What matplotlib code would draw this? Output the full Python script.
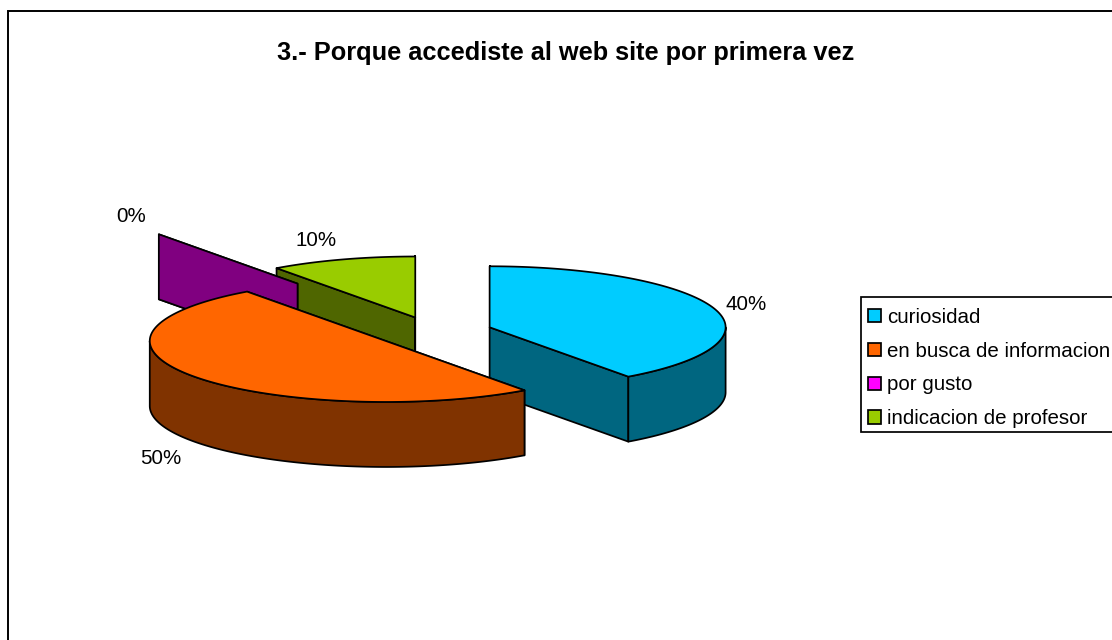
import numpy as np
import matplotlib
matplotlib.use('Agg')
import matplotlib.pyplot as plt
from matplotlib.patches import Patch, Polygon, Rectangle

plt.rcParams['font.family'] = ['Liberation Sans', 'DejaVu Sans']

# data
titulo = "3.- Porque accediste al web site por primera vez"
categorias = ["curiosidad", "en busca de informacion", "por gusto", "indicacion de profesor"]
valores = [40, 50, 0, 10]
explosion = [0.25, 0.25, 0.98, 0.25]
colores = ['#00CCFF', '#FF6600', '#FF00FF', '#99CC00']
colores_lado = ['#006680', '#803300', '#800080', '#4F6600']

# layout, in pixels of the picture
CX, CY = 433.5, 332
RX, RY = 236, 61
ALTO = 65
LW = 1.25
pos_etiquetas = [(746, 304), (161, 459), (131, 216), (316, 241)]
orden = [3, 2, 0, 1]  # back to front


def punto(cx, cy, ang):
    # angle in degrees clockwise from 12 o'clock
    r = np.radians(ang)
    return cx + RX * np.sin(r), cy - RY * np.cos(r)


def arco(cx, cy, a, b):
    angs = np.linspace(a, b, max(int(abs(b - a)) * 2, 2))
    xs, ys = punto(cx, cy, angs)
    return np.column_stack([xs, ys])


def poly(ax, pts, color):
    ax.add_patch(Polygon(pts, closed=True, facecolor=color, edgecolor='black',
                         linewidth=LW, joinstyle='round'))


def porcion(ax, ini, fin, exp, color, lado):
    mid = np.radians((ini + fin) / 2)
    cx = CX + exp * RX * np.sin(mid)
    cy = CY - exp * RY * np.cos(mid)
    abajo = np.array([0, ALTO])

    # radial faces
    for ang in (ini, fin):
        p = np.array(punto(cx, cy, ang))
        c = np.array([cx, cy])
        poly(ax, [c, p, p + abajo, c + abajo], lado)

    # outer wall, only the front half shows
    a, b = max(ini, 90), min(fin, 270)
    if b > a:
        borde = arco(cx, cy, a, b)
        poly(ax, np.vstack([borde, borde[::-1] + abajo]), lado)

    # top face
    if fin > ini:
        poly(ax, np.vstack([[cx, cy], arco(cx, cy, ini, fin)]), color)


fig = plt.figure(figsize=(11.12, 6.4), dpi=100)
ax = fig.add_axes([0, 0, 1, 1])
ax.set_xlim(0, 1112)
ax.set_ylim(640, 0)
ax.axis('off')

# chart area border, runs off the right and bottom
ax.add_patch(Rectangle((8, 11), 1300, 800, facecolor='white', edgecolor='black', linewidth=1.4))

total = sum(valores)
fines = np.cumsum(valores) / total * 360
inicios = np.concatenate([[0], fines[:-1]])
for i in orden:
    porcion(ax, inicios[i], fines[i], explosion[i], colores[i], colores_lado[i])

for v, (x, y) in zip(valores, pos_etiquetas):
    ax.text(x, y, f"{v / total:.0%}", fontsize=14.8, ha='center', va='center', color='black')

ax.text(566, 53, titulo, fontsize=18.3, fontweight='bold', ha='center', va='center', color='black')

# legend box is cut by the right edge, frame drawn apart from the entries
ax.add_patch(Rectangle((861, 297), 300, 135, facecolor='white', edgecolor='black', linewidth=1.25))
handles = [Patch(facecolor=c, edgecolor='black', linewidth=LW) for c in colores]
ax.legend(handles, categorias, loc='upper left', bbox_to_anchor=(859.5 / 1112, 1 - 299 / 640),
          borderaxespad=0, fontsize=14.8, frameon=False, handlelength=0.62, handleheight=0.62,
          handletextpad=0.3, labelspacing=0.72, borderpad=0.43)

fig.savefig('out.png', dpi=100, facecolor='white')
